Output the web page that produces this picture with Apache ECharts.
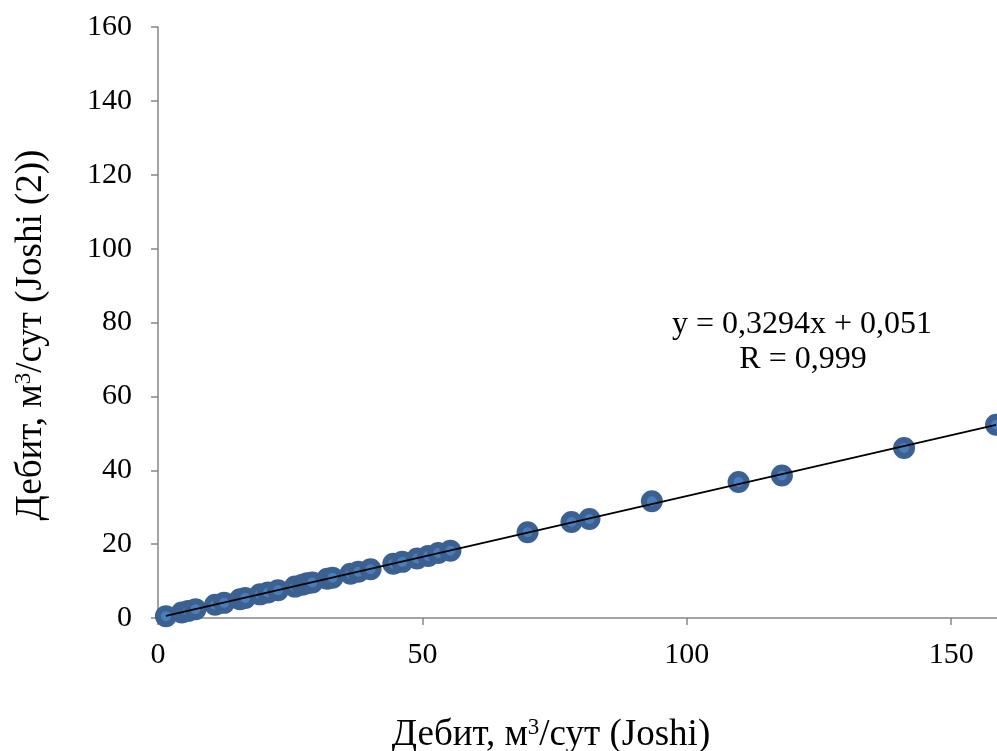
<!DOCTYPE html>
<html>
<head>
<meta charset="utf-8">
<script src="https://cdn.jsdelivr.net/npm/echarts@6/dist/echarts.min.js"></script>
<style>
  html, body { margin: 0; padding: 0; background: #fff; }
  #chart { width: 997px; height: 751px; }
</style>
</head>
<body>
<div id="chart"></div>
<script>
// Flow rate by Joshi (x) vs. flow rate by Joshi (2) (y), m3/day
const joshiRate = [1.5, 4.5, 5.7, 7.1, 10.8, 12.5, 15.5, 16.5, 19.3, 20.8, 22.7, 25.9, 27.3, 28.2, 29.2,
  32.0, 33.0, 36.4, 37.9, 40.2, 44.5, 46.2, 49.0, 51.1, 53.0, 55.3, 69.9, 78.2, 81.6, 93.4,
  109.8, 118.0, 141.1, 158.5];
const joshi2Rate = [0.5, 1.5, 1.9, 2.4, 3.6, 4.1, 5.1, 5.4, 6.4, 6.9, 7.5, 8.5, 9.0, 9.4, 9.6,
  10.6, 10.9, 12.0, 12.5, 13.2, 14.7, 15.2, 16.1, 16.8, 17.6, 18.2, 23.2, 26.0, 26.8, 31.6,
  36.8, 38.6, 46.0, 52.3];

// Linear trend stated on the chart
const trendSlope = 0.3294;
const trendIntercept = 0.051;
const equationLines = ['y = 0,3294x + 0,051', 'R = 0,999'];

const xTitle = 'Дебит, м{sup|3}/сут (Joshi)';
const yTitle = 'Дебит, м{sup|3}/сут (Joshi (2))';

const xTicks = { min: 0, max: 160, interval: 50 };
const yTicks = { min: 0, max: 160, interval: 20 };

const points = joshiRate.map((x, i) => [x, joshi2Rate[i]]);
const xStart = Math.min(...joshiRate);
const xEnd = Math.max(...joshiRate);
const trendPoints = [
  [xStart, trendSlope * xStart + trendIntercept],
  [xEnd, trendSlope * xEnd + trendIntercept]
];

const FONT = 'Liberation Serif';
const AXIS_GREY = '#868686';
const supStyle = { fontFamily: FONT, fontSize: 23, verticalAlign: 'top', padding: [0, 0, 14, 0], fill: '#000' };

const chart = echarts.init(document.getElementById('chart'), null, { renderer: 'canvas' });

chart.setOption({
  animation: false,
  backgroundColor: '#ffffff',
  // plot area runs a little past the right edge of the canvas
  grid: { left: 158, top: 27, width: 846, height: 591, containLabel: false, outerBoundsMode: 'none' },
  xAxis: {
    type: 'value',
    min: xTicks.min, max: xTicks.max, interval: xTicks.interval,
    splitLine: { show: false },
    axisLine: { lineStyle: { color: AXIS_GREY, width: 1.5 } },
    axisTick: { show: true, length: 7, lineStyle: { color: AXIS_GREY, width: 1.5 } },
    axisLabel: { color: '#000', fontFamily: FONT, fontSize: 30, margin: 22, showMaxLabel: false }
  },
  yAxis: {
    type: 'value',
    min: yTicks.min, max: yTicks.max, interval: yTicks.interval,
    splitLine: { show: false },
    axisLine: { show: true, lineStyle: { color: AXIS_GREY, width: 1.5 } },
    axisTick: { show: true, length: 7, lineStyle: { color: AXIS_GREY, width: 1.5 } },
    axisLabel: { color: '#000', fontFamily: FONT, fontSize: 30, margin: 26 }
  },
  graphic: [
    {
      type: 'text', x: 551, y: 735,
      style: {
        text: xTitle, fontFamily: FONT, fontSize: 37, fill: '#000',
        align: 'center', verticalAlign: 'middle', rich: { sup: supStyle }
      }
    },
    {
      type: 'text', x: 31, y: 335, rotation: Math.PI / 2,
      style: {
        text: yTitle, fontFamily: FONT, fontSize: 37, fill: '#000',
        align: 'center', verticalAlign: 'middle', rich: { sup: supStyle }
      }
    },
    {
      type: 'text', x: 802, y: 325,
      style: { text: equationLines[0], fontFamily: FONT, fontSize: 32, fill: '#000', align: 'center', verticalAlign: 'middle' }
    },
    {
      type: 'text', x: 803, y: 360,
      style: { text: equationLines[1], fontFamily: FONT, fontSize: 32, fill: '#000', align: 'center', verticalAlign: 'middle' }
    }
  ],
  series: [
    {
      type: 'scatter',
      data: points,
      symbol: 'circle',
      symbolSize: 16,
      itemStyle: { color: '#4a7ebb', borderColor: '#3b6092', borderWidth: 6, opacity: 1 },
      z: 2
    },
    {
      type: 'line',
      data: trendPoints,
      symbol: 'none',
      lineStyle: { color: '#000', width: 1.8 },
      z: 3
    }
  ]
});
</script>
</body>
</html>
